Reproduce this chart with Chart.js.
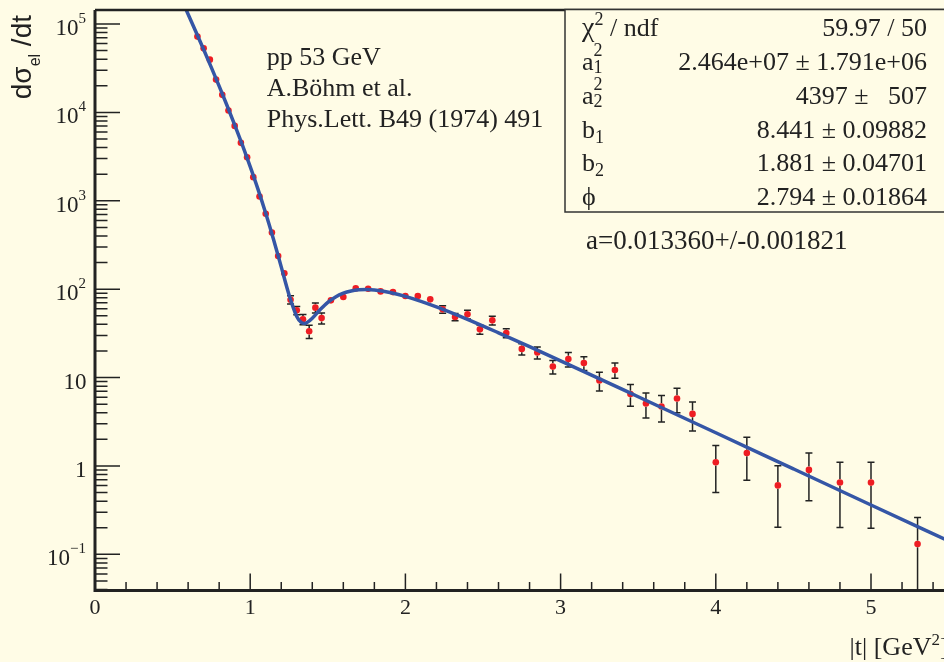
<!DOCTYPE html>
<html>
<head>
<meta charset="utf-8">
<script src="https://cdn.jsdelivr.net/npm/chart.js@4.4.1/dist/chart.umd.min.js"></script>
<style>
html, body { margin: 0; padding: 0; overflow: hidden; background: #fffce6; }
#wrap { width: 1000px; height: 662px; }
</style>
</head>
<body>
<div id="wrap"><canvas id="dsigmaChart" width="1000" height="662"></canvas></div>
<script>
// measured points, |t| in GeV^2
const tValues = [0.66, 0.70, 0.74, 0.78, 0.82, 0.86, 0.90, 0.94, 0.98, 1.02, 1.06, 1.10, 1.14, 1.18, 1.22,
    1.26, 1.30, 1.34, 1.38, 1.42, 1.46, 1.52, 1.60, 1.68, 1.76, 1.84, 1.92, 2.00, 2.08, 2.16, 2.24, 2.32,
    2.40, 2.48, 2.56, 2.65, 2.75, 2.85, 2.95, 3.05, 3.15, 3.25, 3.35, 3.45, 3.55, 3.65, 3.75, 3.85, 4.0,
    4.2, 4.4, 4.6, 4.8, 5.0, 5.3];
const dsdt = [72000, 53000, 39500, 23500, 15800, 10500, 7030, 4520, 3110, 1850, 1120, 713, 438, 237, 151,
    76, 57.6, 45.6, 33.4, 61.8, 47.1, 74.7, 81.5, 102, 101, 94.4, 92.7, 83.6, 83.6, 76.7, 59.1, 48.4,
    51.9, 35.1, 44.4, 31.9, 21.1, 19.2, 13.3, 16.2, 14.6, 9.25, 12.2, 6.53, 5.08, 4.70, 5.79, 3.88, 1.10,
    1.40, 0.603, 0.903, 0.651, 0.648, 0.131];
const dsdtErr = [1400, 1000, 750, 450, 300, 200, 135, 90, 60, 36, 22, 14, 9, 6, 10,
    8, 6.2, 6, 5.7, 8, 6.8, 5, 5, 4, 4, 3.5, 3.5, 3.5, 3.5, 3.5, 5.7, 4.6,
    5.8, 4.2, 5, 3.7, 3.1, 3.0, 2.3, 3.0, 2.6, 2.2, 2.4, 1.8, 1.6, 1.55, 1.8, 1.4, 0.6,
    0.71, 0.4, 0.5, 0.45, 0.45, 0.13];

// fitted curve
const fitT = [0.55, 0.6, 0.65, 0.7, 0.75, 0.8, 0.85, 0.9, 0.95, 1.0, 1.05, 1.1, 1.15, 1.2, 1.25, 1.3,
    1.33, 1.35, 1.37, 1.4, 1.45, 1.5, 1.55, 1.6, 1.65, 1.7, 1.75, 1.8, 1.9, 2.0, 2.2, 2.4, 2.6, 2.8,
    3.0, 3.5, 4.0, 4.5, 5.0, 5.5];
const fitDsdt = [202700, 129100, 81750, 51400, 32060, 19800, 12040, 7227, 4251, 2437, 1356, 722.7, 367.6,
    178.7, 86.6, 49.1, 41.8, 41.0, 42.4, 47.0, 58.5, 71.0, 81.8, 90.0, 95.4, 98.3, 99.1, 97.9, 91.9,
    83.0, 63.1, 45.6, 32.1, 22.35, 15.45, 6.07, 2.375, 0.927, 0.362, 0.1415];

const xTickLabels = ['0', '1', '2', '3', '4', '5'];
const yTickExp = [-1, 0, 1, 2, 3, 4, 5];
const yTickBase = ['10', '1', '10', '10', '10', '10', '10'];
const yTickSup = ['\u22121', '', '', '2', '3', '4', '5'];

const infoLines = ['pp 53 GeV', 'A.B\u00f6hm et al.', 'Phys.Lett. B49 (1974) 491'];
const statValues = ['59.97 / 50', '2.464e+07 \u00b1 1.791e+06', '4397 \u00b1   507',
    '8.441 \u00b1 0.09882', '1.881 \u00b1 0.04701', '2.794 \u00b1 0.01864'];
const extraNote = 'a=0.013360+/-0.001821';

const BG = '#fffce6';
const INK = '#222222';
const MARKER_R = 3.3;

function serif(px) { return px + 'px "Liberation Serif", "Times New Roman", serif'; }
function sans(px) { return px + 'px "Liberation Sans", Arial, sans-serif'; }

// pieces: [text, font, dy, noAdvance]
function drawPieces(ctx, pieces, x, y, align) {
    let w = 0;
    pieces.forEach(p => { ctx.font = p[1]; if (!p[3]) w += ctx.measureText(p[0]).width; });
    let cx = align === 'right' ? x - w : x;
    ctx.textAlign = 'left';
    ctx.textBaseline = 'alphabetic';
    pieces.forEach(p => {
        ctx.font = p[1];
        ctx.fillText(p[0], cx, y + (p[2] || 0));
        if (!p[3]) cx += ctx.measureText(p[0]).width;
    });
}

const background = {
    id: 'background',
    beforeDraw(chart) {
        const ctx = chart.ctx;
        ctx.save();
        ctx.fillStyle = BG;
        ctx.fillRect(0, 0, chart.width, chart.height);
        ctx.restore();
    }
};

// error bars start outside the marker, like ROOT does
const errorBars = {
    id: 'errorBars',
    beforeDatasetsDraw(chart) {
        const {ctx, chartArea} = chart;
        const x = chart.scales.x, y = chart.scales.y;
        ctx.save();
        ctx.beginPath();
        ctx.rect(chartArea.left, chartArea.top, chartArea.width, chartArea.height);
        ctx.clip();
        ctx.strokeStyle = INK;
        ctx.lineWidth = 1.5;
        tValues.forEach((t, i) => {
            const px = x.getPixelForValue(t);
            const py = y.getPixelForValue(dsdt[i]);
            const yHi = y.getPixelForValue(dsdt[i] + dsdtErr[i]);
            const lo = dsdt[i] - dsdtErr[i];
            const yLo = lo > 0 ? y.getPixelForValue(lo) : chartArea.bottom + 10;
            ctx.beginPath();
            if (py - yHi > MARKER_R) {
                ctx.moveTo(px, yHi); ctx.lineTo(px, py - MARKER_R);
                ctx.moveTo(px - 3.5, yHi); ctx.lineTo(px + 3.5, yHi);
            }
            if (yLo - py > MARKER_R) {
                ctx.moveTo(px, py + MARKER_R); ctx.lineTo(px, yLo);
                ctx.moveTo(px - 3.5, yLo); ctx.lineTo(px + 3.5, yLo);
            }
            ctx.stroke();
        });
        ctx.restore();
    }
};

const frameAndText = {
    id: 'frameAndText',
    afterDraw(chart) {
        const {ctx, chartArea} = chart;
        const x = chart.scales.x, y = chart.scales.y;
        const L = chartArea.left, R = chartArea.right, T = chartArea.top, B = chartArea.bottom;
        ctx.save();
        ctx.strokeStyle = INK;
        ctx.fillStyle = INK;

        // ticks
        ctx.lineWidth = 1.5;
        ctx.beginPath();
        for (let k = 0; k <= 27; k++) {
            const v = k * 0.2;
            if (v > 5.5) break;
            const px = x.getPixelForValue(v);
            const len = (k % 5 === 0) ? 17 : 8.5;
            ctx.moveTo(px, B); ctx.lineTo(px, B - len);
        }
        for (let d = -2; d <= 5; d++) {
            for (let m = 1; m <= 9; m++) {
                const v = m * Math.pow(10, d);
                if (v < y.min || v > y.max) continue;
                const py = y.getPixelForValue(v);
                const len = m === 1 ? 25 : 12.5;
                ctx.moveTo(L, py); ctx.lineTo(L + len, py);
            }
        }
        ctx.stroke();

        // frame
        ctx.lineWidth = 3;
        ctx.beginPath();
        ctx.moveTo(L, T); ctx.lineTo(L, B); ctx.lineTo(R, B);
        ctx.stroke();
        ctx.lineWidth = 2.5;
        ctx.beginPath();
        ctx.moveTo(L, T); ctx.lineTo(R, T); ctx.lineTo(R, B);
        ctx.stroke();

        // tick labels
        ctx.textAlign = 'center';
        ctx.textBaseline = 'alphabetic';
        ctx.font = serif(22);
        xTickLabels.forEach((lab, i) => {
            ctx.fillText(lab, x.getPixelForValue(i), 614);
        });
        yTickExp.forEach((e, i) => {
            const py = y.getPixelForValue(Math.pow(10, e));
            if (yTickSup[i]) {
                ctx.font = serif(15);
                const sw = ctx.measureText(yTickSup[i]).width;
                ctx.textAlign = 'right';
                ctx.fillText(yTickSup[i], 86, py - 1);
                ctx.font = serif(23);
                ctx.fillText(yTickBase[i], 86 - sw, py + 11);
            } else {
                ctx.font = serif(23);
                ctx.textAlign = 'right';
                ctx.fillText(yTickBase[i], 86.5, py + 11);
            }
        });

        // axis titles
        drawPieces(ctx, [['|t| [GeV', serif(26)], ['2', serif(17), -10], [']', serif(26)]], R, 655, 'right');
        ctx.save();
        ctx.translate(31, 15);
        ctx.rotate(-Math.PI / 2);
        drawPieces(ctx, [['d\u03c3', sans(28)], ['el', sans(16), 9], [' /dt', sans(28)]], 0, 0, 'right');
        ctx.restore();

        // info text
        ctx.font = serif(26);
        ctx.textAlign = 'left';
        infoLines.forEach((s, i) => ctx.fillText(s, 266.7, 65 + i * 30.9));

        // stats box
        const bx = 565, by = 9.5, bw = R - 565, bh = 202.5;
        ctx.fillStyle = BG;
        ctx.fillRect(bx, by, bw, bh);
        ctx.lineWidth = 1.5;
        ctx.strokeStyle = '#333333';
        ctx.strokeRect(bx, by, bw, bh);
        ctx.fillStyle = INK;
        const rowH = bh / 6;
        const base = i => by + rowH * (i + 1) - 7;
        const f = serif(26), fs = serif(18);
        drawPieces(ctx, [['\u03c7', serif(28)], ['2', fs, -11], [' / ndf', f]], 582, base(0), 'left');
        drawPieces(ctx, [['a', f], ['2', fs, -14, true], ['1', fs, 3]], 582, base(1), 'left');
        drawPieces(ctx, [['a', f], ['2', fs, -14, true], ['2', fs, 3]], 582, base(2), 'left');
        drawPieces(ctx, [['b', f], ['1', fs, 5]], 582, base(3), 'left');
        drawPieces(ctx, [['b', f], ['2', fs, 5]], 582, base(4), 'left');
        drawPieces(ctx, [['\u03d5', f]], 582, base(5), 'left');
        ctx.font = f;
        ctx.textAlign = 'right';
        statValues.forEach((s, i) => ctx.fillText(s, 927, base(i)));

        ctx.font = serif(27);
        ctx.textAlign = 'left';
        ctx.fillText(extraNote, 586, 249);
        ctx.restore();
    }
};

const ctx = document.getElementById('dsigmaChart');
const dsigmaChart = new Chart(ctx, {
    data: {
        datasets: [
            {
                type: 'line',
                label: 'fit',
                data: fitT.map((t, i) => ({x: t, y: fitDsdt[i]})),
                borderColor: '#3556a6',
                borderWidth: 3.5,
                pointRadius: 0,
                cubicInterpolationMode: 'monotone',
                clip: 0
            },
            {
                type: 'scatter',
                label: 'data',
                data: tValues.map((t, i) => ({x: t, y: dsdt[i]})),
                backgroundColor: '#ee1d23',
                borderWidth: 0,
                pointRadius: MARKER_R,
                clip: 0
            }
        ]
    },
    options: {
        responsive: false,
        animation: false,
        devicePixelRatio: 1,
        layout: { padding: { left: 95, top: 10, right: 51.4, bottom: 71.5 } },
        plugins: { legend: { display: false }, tooltip: { enabled: false } },
        scales: {
            x: { type: 'linear', min: 0, max: 5.5, display: false },
            y: { type: 'logarithmic', min: 0.039, max: 1.44e5, display: false }
        }
    },
    plugins: [background, errorBars, frameAndText]
});
</script>
</body>
</html>
